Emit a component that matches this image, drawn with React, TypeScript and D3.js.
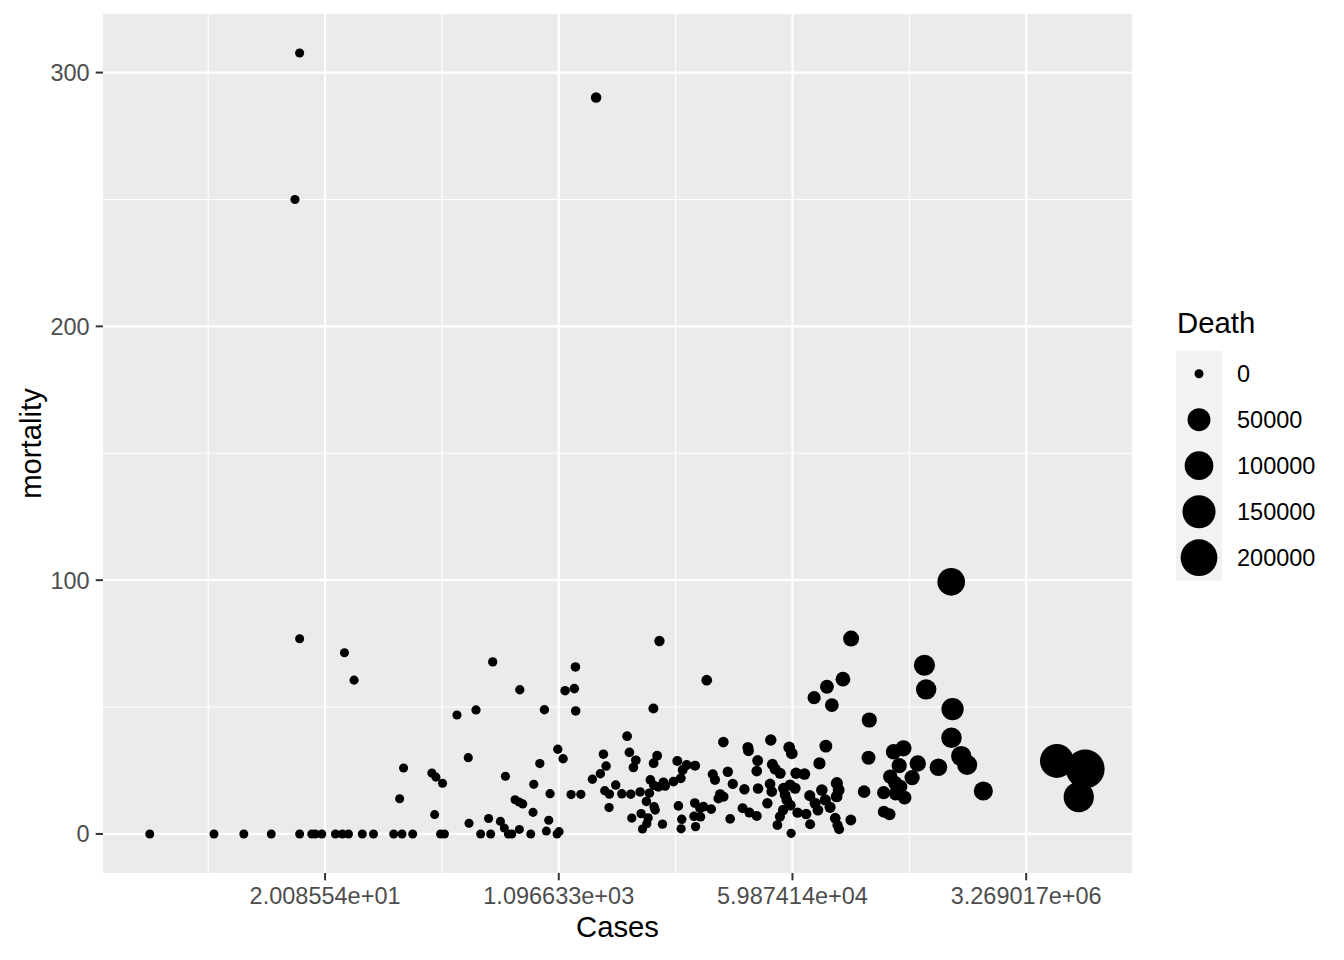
import React from 'react';
import * as d3 from 'd3';

// ---- Data ----
const cases: number[] = [
  1, 3, 5, 8, 13, 16, 17, 19, 24, 27, 30, 38, 46, 65, 75, 90, 145, 155, 288, 342, 463, 491, 679, 1065,
  13, 12, 2078, 13, 28, 33, 192, 77, 72, 125, 134, 150, 131,
  6142, 354, 1459, 563, 1222, 1432, 266, 858, 1465, 5540, 233, 440, 793, 1078, 1181, 715, 945, 1354, 1600,
  519, 556, 592, 706, 924, 236, 330, 404, 432, 559, 887, 1103,
  3532, 2355, 3674, 4100, 3935, 5906, 5560, 2466, 2235, 1950, 2907, 2411, 2610, 3226, 3762, 4414, 2595, 3827,
  4490, 5061, 4947, 4595, 6470, 4915, 5707, 5260, 5580, 5170, 6033, 6580, 6775, 7810, 8853, 8340, 9800, 11300,
  9140, 8500, 9000, 8900, 11250, 11100, 11400,
  18350, 27900, 28200, 41300, 56600, 59200, 106000, 95000, 33000, 32500,
  42500, 44500, 48500, 19800, 15300, 15900, 21550, 17350, 18400, 16850,
  26300, 33200, 40800, 42000, 38960, 51300, 52800, 57500, 63700, 62600,
  54300, 57800, 51000, 48300, 46250, 58500, 73500, 25500, 28650, 32500,
  20600, 14900, 12300, 65300, 75700, 81000, 80500, 88200, 92500, 99000,
  105000, 114000, 128000, 132000, 127500, 124500, 129500, 133000, 162500, 13800,
  163300, 142000, 108000, 86700, 117500, 223000, 220000, 204000,
  906000, 573000, 590000, 927000, 910000, 1075000, 1190000, 728000, 1570000, 511000,
  464000, 400000, 338000, 372000, 319000, 348000, 379000, 408000, 285000, 350000,
  286000, 315000,
  8980000, 5530000, 8040000,
  13040, 12400, 5610,
];

const deaths: number[] = [
  0, 0, 0, 0, 0, 0, 0, 0, 0, 0, 0, 0, 0, 0, 0, 0, 0, 0, 0, 0, 0, 0, 0, 0,
  4, 3, 603, 1, 2, 2, 9, 2, 1, 3, 3, 3, 1,
  467, 24, 96, 32, 69, 82, 13, 42, 71, 274, 7, 10, 22, 36, 35, 14, 15, 21, 25,
  7, 7, 7, 6, 5, 1, 2, 2, 1, 1, 1, 1,
  136, 74, 118, 119, 103, 182, 155, 66, 53, 42, 56, 41, 41, 51, 59, 73, 27, 24,
  36, 32, 20, 9, 25, 63, 54, 112, 107, 83, 112, 134, 128, 161, 194, 240, 266, 304,
  230, 94, 52, 18, 137, 77, 33,
  664, 951, 925, 1528, 1930, 1877, 3668, 2641, 954, 806,
  1165, 1139, 1159, 485, 360, 339, 425, 272, 270, 236,
  463, 594, 804, 701, 471, 923, 813, 1110, 1522, 1127,
  728, 656, 482, 330, 162, 16, 1735, 258, 241, 231,
  122, 146, 124, 549, 598, 308, 1215, 1067, 870, 1713,
  1407, 1197, 2560, 2284, 1882, 772, 453, 246, 894, 836,
  12574, 8662, 6264, 4656, 5969, 10013, 6600, 3400,
  90000, 38100, 33600, 45600, 34500, 33000, 32400, 19150, 26600, 14200,
  10300, 13500, 10950, 10000, 7200, 6960, 7050, 5830, 4640, 5570,
  2500, 2450,
  230000, 159000, 117000,
  140, 84, 60,
];

const xMajorExponents = [3, 7, 11, 15];
const xMinorExponents = [1, 5, 9, 13];
const yMajorTicks = [0, 100, 200, 300];
const yMinorTicks = [50, 150, 250];
const legendBreaks = [0, 50000, 100000, 150000, 200000];

const W = 1344;
const H = 960;
const P = { left: 103, right: 1132, top: 14, bottom: 873 };
const FONT = "'Liberation Sans', Arial, Helvetica, sans-serif";

function fmtSci(v: number): string {
  return v.toExponential(6).replace(/e([+-])(\d)$/, 'e$10$2');
}

export default function App() {
  const pts = cases.map((c, i) => ({ c, d: deaths[i], m: (deaths[i] / c) * 1000 }));
  const lnExt = d3.extent(pts, (p) => Math.log(p.c)) as [number, number];
  const xpad = (lnExt[1] - lnExt[0]) * 0.05;
  const x = d3
    .scaleLog()
    .base(Math.E)
    .domain([Math.exp(lnExt[0] - xpad), Math.exp(lnExt[1] + xpad)])
    .range([P.left, P.right]);
  const mExt = d3.extent(pts, (p) => p.m) as [number, number];
  const ypad = (mExt[1] - mExt[0]) * 0.05;
  const y = d3.scaleLinear().domain([mExt[0] - ypad, mExt[1] + ypad]).range([P.bottom, P.top]);
  const r = d3.scaleSqrt().domain([0, 200000]).range([4.5, 18.4]);

  const keyTop = 350.7;
  const keySize = 46;
  const keyLeft = 1176;

  return (
    <svg
      width={W}
      height={H}
      style={{ position: 'absolute', left: 0, top: 0, background: '#ffffff' }}
      fontFamily={FONT}
    >
      <rect x={0} y={0} width={W} height={H} fill="#ffffff" />
      <rect x={P.left} y={P.top} width={P.right - P.left} height={P.bottom - P.top} fill="#EBEBEB" />
      {/* minor grid */}
      {xMinorExponents.map((e) => (
        <line key={'xm' + e} x1={x(Math.exp(e))} x2={x(Math.exp(e))} y1={P.top} y2={P.bottom} stroke="#fff" strokeWidth={1.1} />
      ))}
      {yMinorTicks.map((t) => (
        <line key={'ym' + t} x1={P.left} x2={P.right} y1={y(t)} y2={y(t)} stroke="#fff" strokeWidth={1.1} />
      ))}
      {/* major grid */}
      {xMajorExponents.map((e) => (
        <line key={'xM' + e} x1={x(Math.exp(e))} x2={x(Math.exp(e))} y1={P.top} y2={P.bottom} stroke="#fff" strokeWidth={2.2} />
      ))}
      {yMajorTicks.map((t) => (
        <line key={'yM' + t} x1={P.left} x2={P.right} y1={y(t)} y2={y(t)} stroke="#fff" strokeWidth={2.2} />
      ))}
      {/* points */}
      {pts.map((p, i) => (
        <circle key={i} cx={x(p.c)} cy={y(p.m)} r={r(p.d)} fill="#000" />
      ))}
      {/* axes ticks and labels */}
      {yMajorTicks.map((t) => (
        <g key={'yt' + t}>
          <line x1={P.left - 7.3} x2={P.left} y1={y(t)} y2={y(t)} stroke="#333" strokeWidth={2} />
          <text x={P.left - 13.3} y={y(t)} dy="0.36em" textAnchor="end" fontSize={23.5} fill="#4D4D4D">
            {t}
          </text>
        </g>
      ))}
      {xMajorExponents.map((e) => (
        <g key={'xt' + e}>
          <line x1={x(Math.exp(e))} x2={x(Math.exp(e))} y1={P.bottom} y2={P.bottom + 7.3} stroke="#333" strokeWidth={2} />
          <text x={x(Math.exp(e))} y={903.5} textAnchor="middle" fontSize={23.5} fill="#4D4D4D">
            {fmtSci(Math.exp(e))}
          </text>
        </g>
      ))}
      <text x={(P.left + P.right) / 2} y={937} textAnchor="middle" fontSize={29.3} fill="#000">
        Cases
      </text>
      <text
        transform={`translate(41, ${(P.top + P.bottom) / 2}) rotate(-90)`}
        textAnchor="middle"
        fontSize={29.3}
        fill="#000"
      >
        mortality
      </text>
      {/* legend */}
      <text x={1177} y={333} fontSize={29.3} fill="#000">
        Death
      </text>
      {legendBreaks.map((b, i) => (
        <g key={'lg' + b}>
          <rect x={keyLeft} y={keyTop + i * keySize} width={keySize} height={keySize} fill="#F2F2F2" />
          <circle cx={keyLeft + keySize / 2} cy={keyTop + i * keySize + keySize / 2} r={r(b)} fill="#000" />
          <text x={1237} y={keyTop + i * keySize + keySize / 2} dy="0.36em" fontSize={23.5} fill="#000">
            {b}
          </text>
        </g>
      ))}
    </svg>
  );
}
